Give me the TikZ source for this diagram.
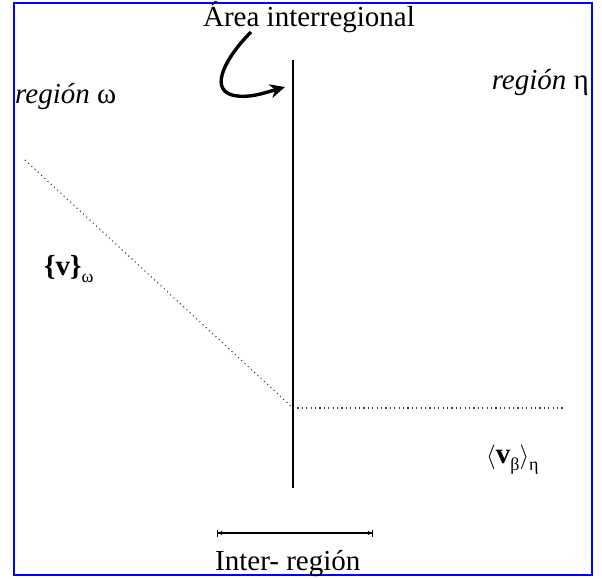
\documentclass[tikz,border=0pt]{standalone}
\usepackage{fontspec}
\setmainfont{Liberation Serif}
\usetikzlibrary{arrows.meta}
\tikzset{
  lbl/.style={inner sep=0pt, font=\fontsize{29}{34}\selectfont},
  dotline/.style={line width=1.1pt, dash pattern=on 1.1pt off 3.3pt, black!75},
  frame/.style={draw=blue, line width=2.7pt},
}
\newcommand{\subsc}[1]{\raisebox{-7pt}{\fontsize{18}{18}\selectfont #1}}
\begin{document}
\begin{tikzpicture}[x=1pt,y=-1pt]
\useasboundingbox (0,0) rectangle (602,578);
\draw[frame] (14,3) rectangle (592,575);
% labels
\node[lbl, anchor=base] (title) at (309,27) {Área interregional};
\node[lbl, anchor=base west] (rw) at (15,103) {\textit{región} ω};
\node[lbl, anchor=base east] (rh) at (589,89) {\textit{región} η};
\node[lbl, anchor=base west] (vw) at (44,275) {\textbf{\{v\}}\subsc{ω}};
\node[lbl, anchor=base west] (vb) at (486,463) {$\langle$\textbf{v}\subsc{β}$\rangle$\subsc{η}};
\node[lbl, anchor=base west] (ir) at (215,570) {Inter- región};
% lines
\coordinate (vtop) at (293,60);
\coordinate (vbot) at (293,488);
\coordinate (o) at (293,408);
\coordinate (dl) at (25,160);
\coordinate (dr) at (565,408);
\draw[line width=1.5pt] (vtop) -- (vbot);
\draw[dotline] (dl) -- (o);
\draw[dotline] (o) -- (dr);
% curved arrow
\coordinate (as) at (251,32);
\coordinate (ae) at (285,87);
\draw[line width=3.4pt, -{Stealth[length=15pt,width=14pt]}] (as) .. controls (228,55) and (208,88) .. (232,95) .. controls (248,99) and (264,93) .. (ae);
% inter-region bar
\coordinate (b1) at (217,533);
\coordinate (b2) at (373,533);
\draw[line width=1.2pt, {Bar[width=7pt]Latex[length=4pt,width=5pt]}-{Latex[length=4pt,width=5pt]Bar[width=7pt]}] (b1) -- (b2);
\end{tikzpicture}
\end{document}
